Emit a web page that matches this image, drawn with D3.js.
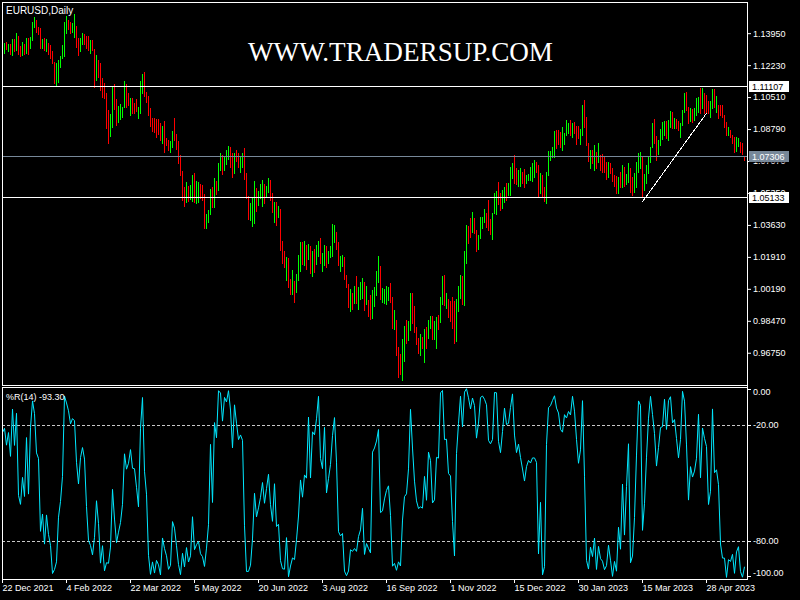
<!DOCTYPE html>
<html><head><meta charset="utf-8">
<script src="https://cdn.jsdelivr.net/npm/d3@7"></script>
<style>html,body{margin:0;padding:0;background:#000;}svg{display:block;}</style>
</head><body>
<svg id="chart" width="800" height="600"></svg>
<script>
// ---------------- DATA ----------------
const symbolLabel = "EURUSD,Daily";
const watermarkText = "WWW.TRADERSUP.COM";
const indicatorName = "%R(14)";
const indicatorValueText = "-93.30";
const firstDate = "2021-12-22";
const firstOpen = 1.1283;

// 13 bars before the first visible bar (3 - 21 Dec 2021), only used to warm up %R(14)
const priorHighs  = [1.1333,1.1320,1.1295,1.1355,1.1352,1.1325,1.1318,1.1299,1.1300,1.1360,1.1334,1.1300,1.1306];
const priorLows   = [1.1290,1.1272,1.1227,1.1263,1.1280,1.1263,1.1270,1.1254,1.1222,1.1283,1.1235,1.1222,1.1262];
const priorCloses = [1.1315,1.1285,1.1267,1.1343,1.1292,1.1316,1.1284,1.1258,1.1289,1.1330,1.1240,1.1284,1.1283];

const highs = [
/*Dec21*/1.1346,1.1343,1.1345,1.1336,1.1339,1.1366,1.1361,1.1394,
/*Jan22*/1.1380,1.1326,1.1349,1.1337,1.1367,1.1367,1.1375,1.1457,1.1484,1.1464,1.1427,1.1421,1.1363,1.1369,1.1363,1.1340,1.1330,1.1299,1.1242,1.1233,1.1251,
/*Feb22*/1.1270,1.1331,1.1457,1.1487,1.1468,1.1455,1.1448,1.1498,1.1434,1.1370,1.1368,1.1395,1.1393,1.1382,1.1380,1.1360,1.1359,1.1310,1.1278,1.1250,
/*Mar22*/1.1233,1.1153,1.1125,1.1071,1.0980,1.0960,1.1104,1.1120,1.1040,1.1003,1.1016,1.1000,1.1139,1.1122,1.1071,1.1045,1.1045,1.1018,1.1039,1.1000,1.1140,1.1176,1.1186,
/*Apr22*/1.1080,1.1057,1.0991,1.0937,1.0937,1.0932,1.0932,1.0910,1.0896,1.0924,1.0830,1.0820,1.0815,1.0871,1.0937,1.0853,1.0815,1.0740,1.0654,1.0569,1.0596,
/*May22*/1.0573,1.0580,1.0633,1.0641,1.0600,1.0596,1.0583,1.0578,1.0530,1.0422,1.0444,1.0555,1.0569,1.0614,1.0601,1.0698,1.0748,1.0740,1.0731,1.0767,1.0788,1.0781,
/*Jun22*/1.0749,1.0752,1.0767,1.0749,1.0731,1.0749,1.0776,1.0641,1.0519,1.0483,1.0506,1.0601,1.0560,1.0546,1.0584,1.0605,1.0584,1.0573,1.0614,1.0605,1.0533,1.0489,
/*Jul22*/1.0489,1.0465,1.0449,1.0277,1.0223,1.0189,1.0184,1.0071,1.0121,1.0062,1.0099,1.0202,1.0272,1.0272,1.0277,1.0255,1.0261,1.0250,1.0223,1.0236,1.0255,
/*Aug22*/1.0277,1.0293,1.0210,1.0255,1.0250,1.0223,1.0250,1.0368,1.0363,1.0325,1.0272,1.0196,1.0202,1.0189,1.0092,1.0045,1.0019,0.9995,1.0035,1.0089,1.0031,1.0056,1.0078,
/*Sep22*/1.0056,1.0035,0.9960,0.9986,1.0013,1.0031,1.0115,1.0197,1.0144,1.0022,1.0017,1.0035,1.0031,1.0049,0.9977,0.9906,0.9852,0.9705,0.9669,0.9748,0.9818,0.9852,
/*Oct22*/0.9848,0.9999,0.9995,0.9927,0.9816,0.9753,0.9776,0.9762,0.9801,0.9812,0.9852,0.9873,0.9873,0.9848,0.9866,0.9880,0.9977,1.0088,1.0094,0.9995,0.9963,
/*Nov22*/0.9952,0.9977,0.9956,0.9963,1.0035,1.0094,1.0088,1.0225,1.0363,1.0358,1.0399,1.0435,1.0399,1.0336,1.0309,1.0408,1.0404,1.0447,1.0429,1.0498,1.0394,1.0426,
/*Dec22*/1.0533,1.0548,1.0596,1.0533,1.0551,1.0566,1.0587,1.0587,1.0673,1.0695,1.0740,1.0668,1.0659,1.0667,1.0650,1.0662,1.0632,1.0637,1.0673,1.0695,1.0713,1.0704,
/*Jan23*/1.0686,1.0641,1.0632,1.0565,1.0650,1.0763,1.0763,1.0784,1.0871,1.0874,1.0874,1.0865,1.0892,1.0860,1.0928,1.0910,1.0928,1.0914,1.0919,1.0895,1.0895,1.0880,
/*Feb23*/1.1009,1.1036,1.0946,1.0802,1.0767,1.0767,1.0793,1.0758,1.0806,1.0740,1.0745,1.0727,1.0704,1.0704,1.0698,1.0668,1.0632,1.0627,1.0623,1.0650,
/*Mar23*/1.0686,1.0677,1.0637,1.0695,1.0668,1.0623,1.0645,1.0704,1.0749,1.0758,1.0727,1.0637,1.0686,1.0731,1.0784,1.0914,1.0932,1.0842,1.0820,1.0878,1.0919,1.0925,1.0924,
/*Apr23*/1.0928,1.0978,1.0973,1.0937,1.0932,1.0924,1.0910,1.0982,1.1071,1.1080,1.1000,1.0990,1.0985,1.0990,1.1045,1.1050,1.1098,1.1098,1.1071,1.1062,
/*May23*/1.1030,1.1030,1.1092,1.1092,1.1055,1.1009,1.1009,1.1009,1.0955,1.0919,1.0892,1.0874,1.0847,1.0838,1.0835,1.0829,1.0811,1.0806,1.0734
];
const lows = [
/*Dec21*/1.1276,1.1290,1.1308,1.1300,1.1282,1.1277,1.1297,1.1305,
/*Jan22*/1.1283,1.1272,1.1278,1.1285,1.1287,1.1285,1.1313,1.1356,1.1430,1.1400,1.1389,1.1313,1.1314,1.1306,1.1300,1.1285,1.1264,1.1235,1.1125,1.1116,1.1134,
/*Feb22*/1.1215,1.1262,1.1272,1.1394,1.1418,1.1395,1.1400,1.1375,1.1322,1.1280,1.1298,1.1335,1.1337,1.1315,1.1305,1.1290,1.1305,1.1106,1.1143,1.1160,
/*Mar22*/1.1089,1.1053,1.1048,1.0883,1.0806,1.0842,1.0892,1.0985,1.0900,1.0915,1.0935,1.0945,1.0995,1.1000,1.1008,1.0955,1.0963,1.0964,1.0978,1.0940,1.0967,1.1075,1.1057,
/*Apr22*/1.1026,1.0955,1.0896,1.0871,1.0865,1.0835,1.0850,1.0820,1.0806,1.0757,1.0793,1.0766,1.0757,1.0781,1.0820,1.0770,1.0695,1.0632,1.0497,1.0467,1.0488,
/*May22*/1.0490,1.0500,1.0493,1.0488,1.0480,1.0488,1.0506,1.0497,1.0348,1.0348,1.0381,1.0422,1.0458,1.0458,1.0530,1.0551,1.0659,1.0637,1.0659,1.0691,1.0720,1.0677,
/*Jun22*/1.0623,1.0640,1.0705,1.0677,1.0650,1.0673,1.0609,1.0506,1.0393,1.0390,1.0356,1.0375,1.0440,1.0471,1.0506,1.0467,1.0480,1.0515,1.0542,1.0497,1.0435,1.0381,
/*Jul22*/1.0363,1.0408,1.0228,1.0157,1.0135,1.0067,1.0031,0.9992,0.9992,0.9950,1.0004,1.0067,1.0117,1.0151,1.0148,1.0125,1.0178,1.0106,1.0090,1.0112,1.0153,
/*Aug22*/1.0196,1.0160,1.0117,1.0148,1.0139,1.0157,1.0189,1.0196,1.0271,1.0236,1.0146,1.0117,1.0142,1.0074,1.0031,0.9923,0.9897,0.9909,0.9942,0.9942,0.9911,0.9963,0.9968,
/*Sep22*/0.9905,0.9938,0.9875,0.9857,0.9864,0.9927,0.9986,1.0058,0.9963,0.9950,0.9945,0.9938,0.9959,0.9950,0.9810,0.9805,0.9663,0.9547,0.9561,0.9529,0.9631,0.9726,
/*Oct22*/0.9744,0.9798,0.9834,0.9784,0.9723,0.9672,0.9663,0.9700,0.9626,0.9699,0.9753,0.9807,0.9748,0.9748,0.9703,0.9803,0.9841,0.9938,0.9933,0.9915,0.9870,
/*Nov22*/0.9848,0.9809,0.9726,0.9739,0.9897,0.9968,0.9938,0.9933,1.0160,1.0268,1.0300,1.0327,1.0319,1.0220,1.0232,1.0291,1.0345,1.0381,1.0354,1.0335,1.0315,1.0288,
/*Dec22*/1.0429,1.0422,1.0476,1.0444,1.0453,1.0488,1.0497,1.0524,1.0524,1.0614,1.0591,1.0583,1.0573,1.0570,1.0587,1.0566,1.0587,1.0605,1.0605,1.0601,1.0623,1.0650,
/*Jan23*/1.0515,1.0533,1.0515,1.0490,1.0483,1.0632,1.0713,1.0727,1.0727,1.0776,1.0799,1.0785,1.0767,1.0799,1.0847,1.0856,1.0847,1.0838,1.0856,1.0800,1.0830,1.0800,
/*Feb23*/1.0847,1.0892,1.0793,1.0709,1.0668,1.0695,1.0659,1.0668,1.0704,1.0659,1.0650,1.0650,1.0609,1.0619,1.0641,1.0600,1.0573,1.0533,1.0533,1.0566,
/*Mar23*/1.0569,1.0573,1.0584,1.0596,1.0540,1.0524,1.0540,1.0569,1.0650,1.0668,1.0515,1.0551,1.0587,1.0641,1.0704,1.0784,1.0802,1.0713,1.0745,1.0793,1.0824,1.0845,1.0830,
/*Apr23*/1.0820,1.0892,1.0883,1.0883,1.0883,1.0874,1.0838,1.0900,1.0970,1.0982,1.0910,1.0920,1.0915,1.0930,1.0953,1.0973,1.0965,1.0991,1.0964,1.0964,
/*May23*/1.0967,1.0942,1.0990,1.0995,1.0970,1.0937,1.0955,1.0946,1.0892,1.0847,1.0847,1.0838,1.0802,1.0758,1.0760,1.0788,1.0758,1.0747,1.07106
];
const closes = [
/*Dec21*/1.1327,1.1330,1.1318,1.1327,1.1310,1.1349,1.1322,1.1370,
/*Jan22*/1.1297,1.1289,1.1313,1.1296,1.1359,1.1326,1.1368,1.1443,1.1454,1.1411,1.1405,1.1325,1.1344,1.1311,1.1343,1.1326,1.1303,1.1243,1.1144,1.1150,1.1235,
/*Feb22*/1.1265,1.1302,1.1440,1.1455,1.1440,1.1415,1.1425,1.1430,1.1348,1.1305,1.1357,1.1377,1.1361,1.1322,1.1310,1.1312,1.1308,1.1192,1.1266,1.1220,
/*Mar22*/1.1124,1.1120,1.1064,1.0928,1.0856,1.0905,1.1075,1.0986,1.0912,1.0942,1.0955,1.0990,1.1095,1.1050,1.1015,1.1030,1.0998,1.0997,1.0984,1.0985,1.1088,1.1160,1.1067,
/*Apr22*/1.1046,1.0971,1.0904,1.0900,1.0876,1.0870,1.0862,1.0829,1.0888,1.0826,1.0810,1.0780,1.0789,1.0854,1.0837,1.0798,1.0714,1.0640,1.0557,1.0498,1.0545,
/*May22*/1.0510,1.0525,1.0620,1.0540,1.0552,1.0560,1.0530,1.0513,1.0380,1.0412,1.0435,1.0553,1.0465,1.0586,1.0563,1.0690,1.0734,1.0676,1.0725,1.0733,1.0778,1.0734,
/*Jun22*/1.0648,1.0749,1.0718,1.0697,1.0705,1.0716,1.0617,1.0518,1.0410,1.0420,1.0447,1.0549,1.0494,1.0512,1.0535,1.0567,1.0522,1.0554,1.0585,1.0519,1.0442,1.0484,
/*Jul22*/1.0427,1.0430,1.0266,1.0183,1.0161,1.0186,1.0040,1.0036,1.0062,1.0019,1.0085,1.0142,1.0228,1.0180,1.0229,1.0212,1.0225,1.0122,1.0200,1.0195,1.0222,
/*Aug22*/1.0260,1.0165,1.0170,1.0245,1.0181,1.0196,1.0211,1.0297,1.0323,1.0259,1.0159,1.0170,1.0177,1.0087,1.0038,0.9943,0.9970,0.9966,0.9973,0.9966,1.0002,1.0017,1.0055,
/*Sep22*/0.9946,0.9954,0.9928,0.9903,1.0012,1.0015,1.0042,1.0121,0.9975,0.9978,0.9999,1.0014,1.0022,0.9970,0.9837,0.9838,0.9689,0.9607,0.9593,0.9735,0.9816,0.9802,
/*Oct22*/0.9827,0.9987,0.9883,0.9794,0.9741,0.9702,0.9706,0.9703,0.9780,0.9722,0.9839,0.9856,0.9774,0.9780,0.9862,0.9858,0.9965,1.0078,0.9965,0.9966,0.9883,
/*Nov22*/0.9877,0.9818,0.9751,0.9958,1.0019,1.0074,1.0012,1.0210,1.0355,1.0325,1.0320,1.0392,1.0364,1.0245,1.0300,1.0394,1.0400,1.0410,1.0398,1.0340,1.0330,1.0405,
/*Dec22*/1.0523,1.0537,1.0489,1.0467,1.0508,1.0555,1.0535,1.0537,1.0631,1.0679,1.0626,1.0585,1.0605,1.0623,1.0604,1.0595,1.0617,1.0630,1.0640,1.0650,1.0660,1.0655,
/*Jan23*/1.0545,1.0605,1.0520,1.0505,1.0644,1.0732,1.0735,1.0762,1.0852,1.0830,1.0820,1.0787,1.0795,1.0832,1.0855,1.0870,1.0862,1.0905,1.0890,1.0869,1.0848,1.0862,
/*Feb23*/1.0991,1.0911,1.0794,1.0727,1.0730,1.0712,1.0740,1.0679,1.0724,1.0700,1.0687,1.0670,1.0640,1.0685,1.0652,1.0606,1.0595,1.0545,1.0607,1.0576,
/*Mar23*/1.0668,1.0596,1.0635,1.0682,1.0550,1.0546,1.0582,1.0640,1.0732,1.0735,1.0577,1.0611,1.0669,1.0718,1.0770,1.0856,1.0830,1.0760,1.0800,1.0843,1.0845,1.0904,1.0839,
/*Apr23*/1.0901,1.0955,1.0904,1.0920,1.0904,1.0880,1.0905,1.0975,1.1046,1.0993,1.0927,1.0972,1.0958,1.0966,1.0990,1.1045,1.0975,1.1042,1.1028,1.1017,
/*May23*/1.0977,1.0996,1.1076,1.1014,1.1019,1.1005,1.0961,1.0955,1.0915,1.0850,1.0873,1.0862,1.0840,1.0769,1.0806,1.0815,1.0772,1.0751,1.07306
];

const priceTicks = [1.13950,1.12230,1.10510,1.08790,1.07070,1.05350,1.03630,1.01910,1.00190,0.98470,0.96750];
const dateTickLabels = ["22 Dec 2021","4 Feb 2022","22 Mar 2022","5 May 2022","20 Jun 2022","3 Aug 2022","16 Sep 2022","1 Nov 2022","15 Dec 2022","30 Jan 2023","15 Mar 2023","28 Apr 2023"];
const wprTicks = [0, -20, -80, -100];
const wprLevels = [-20, -80];
const wprPeriod = 14;
const levelPrices = [1.11107, 1.05133];
const bidPrice = 1.07306;
const trendBars = [320, 352];
const trendPrices = [1.0488, 1.0964];

// ---------------- CHART ----------------
const svg = d3.select("#chart");
svg.append("rect").attr("width", 800).attr("height", 600).attr("fill", "#000");

const n = closes.length;
const dates = [];
for (let d = new Date(firstDate + "T00:00:00Z"); dates.length < n; d = d3.utcDay.offset(d, 1)) {
  const wd = d.getUTCDay();
  if (wd !== 0 && wd !== 6) dates.push(d);
}
const fmtDate = d3.utcFormat("%-d %b %Y");
const bars = d3.range(n).map(i => ({
  i, o: i === 0 ? firstOpen : closes[i - 1], h: highs[i], l: lows[i], c: closes[i]
}));

const L = 2, R = 747, MT = 2, MB = 385, IT = 387, IB = 579;
const x = d3.scalePoint().domain(d3.range(n)).range([2, 2 + 2 * (n - 1)]);
const y = d3.scaleLinear().domain([0.95014, 1.15628]).range([385, 2]);
const yR = d3.scaleLinear().domain([-100, 0]).range([579.7, 386.3]);

const font = "'Liberation Sans', Arial, sans-serif";
const defs = svg.append("defs");
defs.append("clipPath").attr("id", "clipMain").append("rect")
  .attr("x", L).attr("y", MT).attr("width", R - L).attr("height", MB - MT);
defs.append("clipPath").attr("id", "clipInd").append("rect")
  .attr("x", L).attr("y", IT).attr("width", R - L).attr("height", IB - IT);

// price boxes geometry (right axis labels of horizontal lines)
const boxes = levelPrices.map(p => ({ p, fill: "#ffffff", color: "#000", yy: Math.round(y(p)) }))
  .concat([{ p: bidPrice, fill: "#778899", color: "#ffffff", yy: Math.floor(y(bidPrice)) }]);
const boxTop = b => b.yy - 5, boxBot = b => b.yy + 6;

// price axis (drawn first; labels hidden by a price box are clipped like in the terminal)
const pAxis = svg.append("g").attr("transform", `translate(${R},0)`)
  .call(d3.axisRight(y).tickValues(priceTicks).tickSize(4).tickPadding(2).tickFormat(d => d.toFixed(5)));
pAxis.select(".domain").remove();
pAxis.selectAll("line").attr("stroke", "#fff");
pAxis.selectAll("text").attr("fill", "#fff").style("font-family", font).style("font-size", "9px");
pAxis.selectAll(".tick").each(function (v, k) {
  const ty = y(v);
  const hit = boxes.find(b => ty + 5 > boxTop(b) && ty - 5 < boxBot(b));
  if (!hit) return;
  const id = "clipTick" + k;
  const cr = defs.append("clipPath").attr("id", id).append("rect").attr("x", -10).attr("width", 80);
  // clip in the tick's own coordinates (tick group is translated to ty)
  if (ty < hit.yy) cr.attr("y", -20).attr("height", Math.max(0, boxTop(hit) - ty + 20));
  else cr.attr("y", boxBot(hit) - ty).attr("height", 20);
  d3.select(this).select("text").attr("clip-path", `url(#${id})`);
});

// candles
const gMain = svg.append("g").attr("clip-path", "url(#clipMain)").attr("shape-rendering", "crispEdges");
gMain.selectAll("line.bar").data(bars).join("line").attr("class", "bar")
  .attr("x1", d => x(d.i) + 0.5).attr("x2", d => x(d.i) + 0.5)
  .attr("y1", d => Math.round(y(d.h))).attr("y2", d => Math.round(y(d.l)) + 1)
  .attr("stroke", d => d.c >= d.o ? "#00ff00" : "#ff0000").attr("stroke-width", 1);

// horizontal level lines and bid line
boxes.forEach(b => {
  gMain.append("line").attr("x1", L).attr("x2", R)
    .attr("y1", b.yy + 0.5).attr("y2", b.yy + 0.5)
    .attr("stroke", b.p === bidPrice ? "#778899" : "#fff").attr("stroke-width", 1);
});

// trend line
gMain.append("line")
  .attr("x1", x(trendBars[0]) + 0.5).attr("y1", y(trendPrices[0]))
  .attr("x2", x(trendBars[1]) + 0.5).attr("y2", y(trendPrices[1]))
  .attr("stroke", "#fff").attr("stroke-width", 1);

// price boxes on the axis
boxes.forEach(b => {
  svg.append("rect").attr("x", 749).attr("y", boxTop(b)).attr("width", 40).attr("height", 11)
    .attr("fill", b.fill).attr("shape-rendering", "crispEdges");
  svg.append("text").attr("x", 752).attr("y", b.yy + 3.5).text(b.p.toFixed(5))
    .attr("fill", b.color).style("font-family", font).style("font-size", "9px");
});

// Williams %R
const allH = priorHighs.concat(highs), allLo = priorLows.concat(lows), allC = priorCloses.concat(closes);
const off = priorHighs.length;
const wpr = d3.range(n).map(i => {
  const j = i + off;
  const hh = d3.max(allH.slice(j - wprPeriod + 1, j + 1));
  const ll = d3.min(allLo.slice(j - wprPeriod + 1, j + 1));
  return { i, v: hh === ll ? 0 : -100 * (hh - allC[j]) / (hh - ll) };
});

const gInd = svg.append("g").attr("clip-path", "url(#clipInd)");
wprLevels.forEach(v => {
  gInd.append("line").attr("x1", L).attr("x2", R)
    .attr("y1", Math.round(yR(v)) + 0.5).attr("y2", Math.round(yR(v)) + 0.5)
    .attr("stroke", "#c8c8c8").attr("stroke-dasharray", "3,2").attr("shape-rendering", "crispEdges");
});
gInd.append("path").datum(wpr)
  .attr("d", d3.line().x(d => x(d.i) + 0.5).y(d => yR(d.v)))
  .attr("fill", "none").attr("stroke", "#00e8ff").attr("stroke-width", 1);

const rAxis = svg.append("g").attr("transform", `translate(${R},0)`)
  .call(d3.axisRight(yR).tickValues(wprTicks).tickSize(4).tickPadding(2).tickFormat(d => d.toFixed(2)));
rAxis.select(".domain").remove();
rAxis.selectAll("line").attr("stroke", "#fff");
rAxis.selectAll("text").attr("fill", "#fff").style("font-family", font).style("font-size", "9px");
rAxis.selectAll(".tick").filter(d => d === 0).attr("transform", "translate(0,389.5)")
  .select("text").attr("dy", "0.65em");
rAxis.selectAll(".tick").filter(d => d === -100).attr("transform", "translate(0,576.5)")
  .select("text").attr("dy", "-0.05em");

// date axis
const tickIdx = dateTickLabels.map(lbl => dates.findIndex(d => fmtDate(d) === lbl)).filter(i => i >= 0);
const xAxis = svg.append("g").attr("transform", `translate(0,${IB})`)
  .call(d3.axisBottom(x).tickValues(tickIdx).tickSize(4).tickPadding(2).tickFormat(i => fmtDate(dates[i])));
xAxis.select(".domain").remove();
xAxis.selectAll("line").attr("stroke", "#fff");
xAxis.selectAll("text").attr("fill", "#fff").attr("text-anchor", "start").attr("x", 0)
  .style("font-family", font).style("font-size", "9px");

// panel borders
const gB = svg.append("g").attr("stroke", "#fff").attr("stroke-width", 1).attr("shape-rendering", "crispEdges").attr("fill", "none");
gB.append("line").attr("x1", L + 0.5).attr("x2", L + 0.5).attr("y1", MT).attr("y2", MB + 1);
gB.append("line").attr("x1", L).attr("x2", R + 1).attr("y1", MT + 0.5).attr("y2", MT + 0.5);
gB.append("line").attr("x1", L).attr("x2", R + 1).attr("y1", MB + 0.5).attr("y2", MB + 0.5);
gB.append("line").attr("x1", L + 0.5).attr("x2", L + 0.5).attr("y1", IT).attr("y2", IB + 1);
gB.append("line").attr("x1", L).attr("x2", R + 1).attr("y1", IT + 0.5).attr("y2", IT + 0.5);
gB.append("line").attr("x1", L).attr("x2", R + 1).attr("y1", IB + 0.5).attr("y2", IB + 0.5);
gB.append("line").attr("x1", R + 0.5).attr("x2", R + 0.5).attr("y1", MT).attr("y2", IB + 1);

// texts
svg.append("text").attr("x", 6).attr("y", 14).text(symbolLabel)
  .attr("fill", "#fff").style("font-family", font).style("font-size", "10px");
svg.append("text").attr("x", 6).attr("y", 400).text(indicatorName + " " + indicatorValueText)
  .attr("fill", "#fff").style("font-family", font).style("font-size", "9px");
svg.append("text").attr("x", 248).attr("y", 61).text(watermarkText)
  .attr("textLength", 305).attr("lengthAdjust", "spacingAndGlyphs")
  .attr("fill", "#fff").style("font-family", "'Liberation Serif', 'Times New Roman', serif").style("font-size", "26.6px");
</script>
</body></html>
